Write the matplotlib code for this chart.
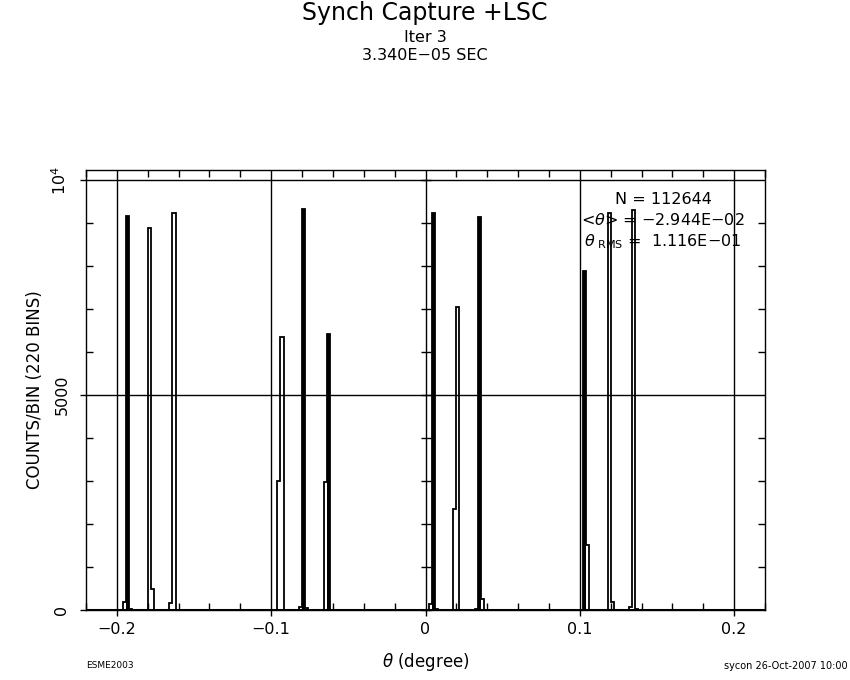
import numpy as np
import matplotlib
matplotlib.use("Agg")
import matplotlib.pyplot as plt
from matplotlib.ticker import MultipleLocator, FixedLocator, FuncFormatter, NullFormatter

# histogram with 220 bins from -0.22 to 0.22 degree, only the non-empty bins listed
n_bins = 220
theta_lo, theta_hi = -0.22, 0.22

bin_theta = [-0.195, -0.193, -0.191, -0.179, -0.177, -0.165, -0.163,
             -0.095, -0.093, -0.081, -0.079, -0.077, -0.065, -0.063,
             0.003, 0.005, 0.007, 0.019, 0.021, 0.033, 0.035, 0.037,
             0.103, 0.105, 0.119, 0.121, 0.133, 0.135, 0.137]
bin_counts = [190, 9170, 30, 8890, 480, 170, 9225,
              3000, 6360, 60, 9325, 40, 2980, 6430,
              130, 9225, 20, 2340, 7040, 20, 9140, 250,
              7880, 1510, 9225, 190, 60, 9300, 20]

# bins that print as solid black bars in the original
solid_theta = [-0.193, -0.079, -0.063, 0.005, 0.035, 0.103]

y_ticks = [0, 5000, 10000]
y_ticklabels = ["0", "5000", "$10^4$"]

stats_lines = ["N = 112644",
               r"<$\theta$> = −2.944E−02",
               r"$\theta_{\ \mathrm{RMS}}$ =  1.116E−01"]

# build the full bin array
edges = np.linspace(theta_lo, theta_hi, n_bins + 1)
counts = np.zeros(n_bins)
counts[np.digitize(bin_theta, edges) - 1] = bin_counts

solid = np.zeros(n_bins)
sidx = np.digitize(solid_theta, edges) - 1
solid[sidx] = counts[sidx]

plt.rcParams['font.family'] = ['DejaVu Sans']
plt.rcParams['mathtext.fontset'] = 'dejavusans'

fig = plt.figure(figsize=(8.5, 6.8), dpi=100)
ax = fig.add_axes([86 / 850, 1 - 610 / 680, 679 / 850, 440 / 680])

ax.stairs(solid, edges, fill=True, color='black', linewidth=0)
ax.stairs(counts, edges, color='black', linewidth=1.3)
# thicker baseline like the plotter output
ax.axhline(0, color='black', linewidth=2.2)

ax.set_xlim(theta_lo, theta_hi)
ax.set_ylim(0, 10233)

# x axis
ax.xaxis.set_major_locator(MultipleLocator(0.1))
ax.xaxis.set_minor_locator(MultipleLocator(0.02))
ax.xaxis.set_major_formatter(FuncFormatter(lambda v, p: f"{round(v, 2):g}".replace("-", "−")))
ax.tick_params(axis='x', which='major', direction='out', length=4, width=1,
               labelsize=11.5, pad=5)
ax.tick_params(axis='x', which='minor', direction='in', length=5, width=1,
               top=True, bottom=True)

# y axis
ax.yaxis.set_major_locator(FixedLocator(y_ticks))
ax.set_yticklabels(y_ticklabels, rotation=90, va='center')
ax.yaxis.set_minor_locator(MultipleLocator(1000))
ax.tick_params(axis='y', which='major', direction='out', length=4, width=1,
               labelsize=11.5, pad=8)
ax.tick_params(axis='y', which='minor', direction='in', length=5, width=1,
               left=True, right=True)

# tick marks along the zero line
sec = ax.secondary_yaxis(0.5)
sec.yaxis.set_major_locator(MultipleLocator(1000))
sec.yaxis.set_major_formatter(NullFormatter())
sec.tick_params(direction='inout', length=7, width=1,
                labelleft=False, labelright=False)
sec.spines['left'].set_visible(False)
sec.spines['right'].set_visible(False)

ax.grid(True, which='major', color='black', linewidth=1)
for s in ax.spines.values():
    s.set_linewidth(1)

ax.set_xlabel(r"$\theta$ (degree)", fontsize=12, labelpad=10)
ax.set_ylabel("COUNTS/BIN (220 BINS)", fontsize=12, labelpad=5)

# statistics box
for i, line in enumerate(stats_lines):
    ax.text(0.85, 0.934 - i * 0.048, line, transform=ax.transAxes,
            ha='center', va='center', fontsize=11.5)

# titles
fig.text(0.5, 1 - 13 / 680, "Synch Capture +LSC", ha='center', va='center', fontsize=17)
fig.text(0.5, 1 - 37 / 680, "Iter 3", ha='center', va='center', fontsize=11.5)
fig.text(0.5, 1 - 55 / 680, "3.340E−05 SEC", ha='center', va='center', fontsize=11.5)

# footer
fig.text(86 / 850, 1 - 666 / 680, "ESME2003", ha='left', va='center', fontsize=6.5)
fig.text(848 / 850, 1 - 666 / 680, "sycon 26-Oct-2007 10:00", ha='right', va='center', fontsize=7)

fig.savefig("out.png", dpi=100)
